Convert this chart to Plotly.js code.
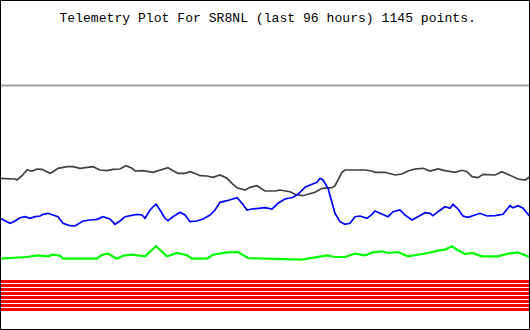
<!DOCTYPE html>
<html><head><meta charset="utf-8">
<script src="https://cdn.plot.ly/plotly-3.0.1.min.js"></script>
<style>html,body{margin:0;padding:0;background:#fff}#chart{width:530px;height:330px}</style>
</head><body><div id="chart"></div>
<script>
// x: sample column (0..530), y: plotted level (screen units, axis reversed)
const titleText = "Telemetry Plot For SR8NL (last 96 hours) 1145 points.";

const grayX = [0, 530];
const grayY = [85.5, 85.5];

const blackX = [0,15,17,22,27,32,37,42,47,50,53,58,67,73,80,87,93,100,107,113,120,126,132,135,143,153,160,168,173,178,185,190,197,200,207,213,220,227,233,237,245,250,257,260,265,
  275,280,290,295,298,303,308,315,322,332,335,338,342,345,355,365,372,375,385,395,402,408,415,423,430,438,445,455,462,467,472,478,483,495,502,510,518,525,530];
const blackY = [178.3,179,180,175.7,170,171,169,169.3,171.7,173.3,171.7,168.3,166.7,166.7,168.3,167.3,166.7,170,170.7,169.3,169,165.7,168.3,171,170.7,172.3,170,167.7,170.7,173.3,173.3,171.7,174.3,175.7,176,177.3,175,178.3,184.3,187.7,190,187.3,185.7,187.7,191,
  191,190,191.7,194.3,195,195.7,194.3,192.3,188.3,187.7,185.7,180,172.3,170,170,170,171,172.3,172.3,175,174,171,169,168.3,171,169,170.7,172.3,170.3,171.7,176.7,177.7,174.3,175,171.7,175.7,179,180,176.7];

const blueX = [0,3,10,15,20,25,30,35,40,43,48,53,58,63,70,75,80,83,90,97,103,110,115,120,125,132,137,142,145,150,156,160,165,168,173,180,185,190,197,203,210,215,220,227,233,237,242,247,252,258,265,
  272,278,285,293,298,305,312,317,320,323,328,332,335,340,345,350,355,360,363,367,372,375,380,385,388,393,400,405,412,418,425,430,433,438,445,450,453,458,463,468,475,480,487,495,503,507,510,513,518,523,530];
const blueY = [218.3,220,223.3,221,217.7,216.7,218.3,216.7,216,214.3,213.3,215,216.7,223.3,225.7,226,223.3,221,220,219.3,216.7,219,224.3,221,216.7,215,214.3,215,218.3,210,204,210,218.3,220.7,216.7,212.3,215,221.7,221,219,215,210,202.3,200.7,199.3,197.7,203.3,210,209,208.3,207.7,
  209,203.3,199,197.3,194.3,187.3,184.3,182.3,178.3,180,188.3,201.7,213.3,221.7,224.3,223.3,216.7,216,216.7,218.3,214.3,211,213.3,215.7,216.7,211.7,210,215,220,216.7,212.7,213.3,215.7,211.7,206.7,208.3,204.3,209,216,217.3,215,213.3,216,215.7,214.3,210,205.7,207.7,205.7,208.3,216.7];

const greenX = [0,17,27,37,48,53,60,63,97,102,108,117,123,132,140,145,156,167,177,187,192,207,213,227,238,248,265,
  285,292,302,308,318,327,335,345,355,365,373,382,388,398,408,418,428,438,445,452,457,465,472,482,498,508,518,530];
const greenY = [258.7,258,257,255.3,256.3,254.7,255.7,258.7,258.7,254.7,253.7,258.7,255.7,254.7,255.3,256.3,246.3,256.3,253,255.3,258.7,258.7,254.7,252.3,252,258,258.7,
  259,259.7,259.7,258.7,257,255.3,257,257,253.7,255.3,252.3,251.3,253,252,256.3,254.7,253,250.7,249.7,246.3,249.7,254,253,256.3,256.3,253.7,252.3,257.3];

const redLevels = [281.5,285.5,289.5,293.5,297.5,301.5,305.5,309.5];

const traces = [];
traces.push({x: grayX, y: grayY, mode:'lines', line:{color:'#a0a0a0', width:2}, hoverinfo:'skip'});
traces.push({x: blackX, y: blackY, mode:'lines', line:{color:'#404040', width:1.7}, hoverinfo:'skip'});
traces.push({x: blueX, y: blueY, mode:'lines', line:{color:'#0000ff', width:1.7}, hoverinfo:'skip'});
traces.push({x: greenX, y: greenY, mode:'lines', line:{color:'#00ff00', width:2.2}, hoverinfo:'skip'});
redLevels.forEach(v => traces.push({x:[0,530], y:[v,v], mode:'lines', line:{color:'#ff0000', width:3}, hoverinfo:'skip'}));

const layout = {
  width: 530, height: 330,
  margin: {l:0, r:0, t:0, b:0, pad:0},
  paper_bgcolor: '#ffffff', plot_bgcolor: '#ffffff',
  showlegend: false,
  title: {text: titleText, font:{family:'Liberation Mono, DejaVu Sans Mono, monospace', size:13.1, color:'#000'},
          x: 0.505, xanchor:'center', y: 1 - 17/330, yref:'container', yanchor:'middle'},
  xaxis: {range:[0,530], visible:false, fixedrange:true},
  yaxis: {range:[330,0], visible:false, fixedrange:true},
  shapes: [{type:'rect', xref:'paper', yref:'paper', x0:0, x1:1, y0:0, y1:1, line:{color:'#000', width:2}, layer:'above'}]
};
Plotly.newPlot('chart', traces, layout, {staticPlot:true, displayModeBar:false});
</script></body></html>
